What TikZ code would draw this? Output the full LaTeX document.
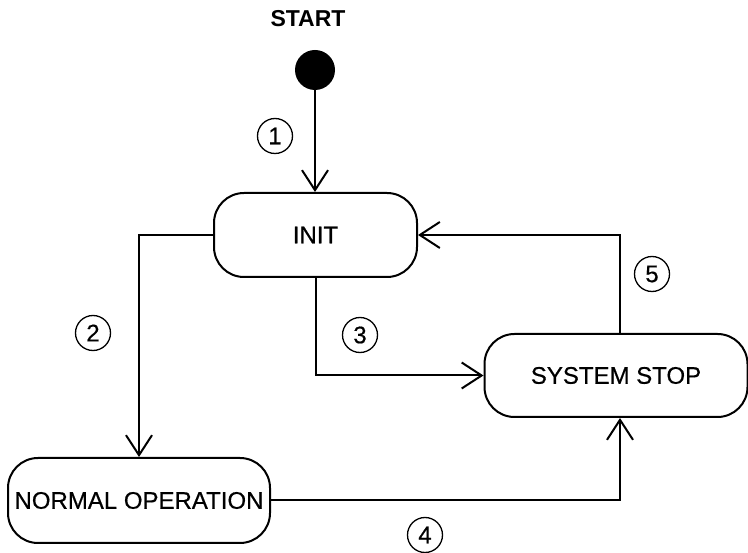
\documentclass[tikz,border=0pt]{standalone}
\usepackage{fontspec}
\setmainfont{Liberation Sans}
\newfontfamily\heavyfont{Liberation Sans}[FakeBold=0.5]
\usetikzlibrary{arrows.meta}
\begin{document}
\begin{tikzpicture}[x=1pt,y=-1pt,
  statebox/.style={draw,line width=2pt,rounded corners=30pt,inner sep=0pt,font=\heavyfont\fontsize{24}{26}\selectfont},
  num/.style={draw,circle,line width=1.3pt,minimum size=35pt,inner sep=0pt,font=\heavyfont\fontsize{24}{26}\selectfont},
  flow/.style={line width=2pt,-{Straight Barb[length=20pt,width=26pt,line width=2pt]}}]
\useasboundingbox (0,0) rectangle (748,553);
\node[font=\bfseries\fontsize{23}{26}\selectfont] (lbl) at (308,19) {START};
\node[circle,fill=black,minimum size=40pt,inner sep=0pt] (start) at (315,70) {};
\node[statebox,minimum width=203pt,minimum height=84pt] (init) at (315.5,235) {INIT};
\node[statebox,minimum width=262pt,minimum height=85pt] (normal) at (139,500.5) {NORMAL OPERATION};
\node[statebox,minimum width=263pt,minimum height=83pt] (stop) at (616,375.5) {SYSTEM STOP};
\node[num] (n1) at (275,136) {1};
\node[num] (n2) at (93,333) {2};
\node[num] (n3) at (360,335) {3};
\node[num] (n4) at (425,535) {4};
\node[num] (n5) at (652,274) {5};
\draw[flow] (start.south) -- (start.south |- init.north);
\draw[flow] (init.west) -| (normal.north);
\draw[flow] (init.south) |- (stop.west);
\draw[flow] (normal.east) -| ([xshift=4pt]stop.south);
\draw[flow] ([xshift=4pt]stop.north) |- (init.east);
\end{tikzpicture}
\end{document}
